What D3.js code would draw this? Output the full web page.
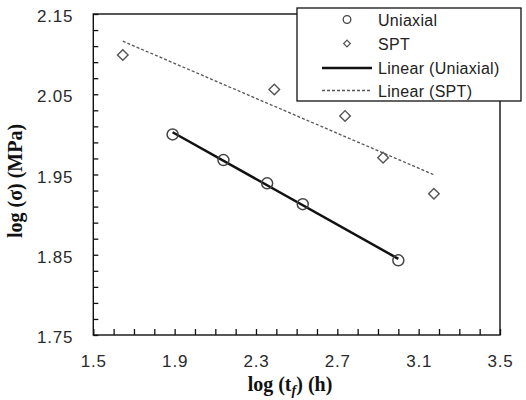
<!DOCTYPE html>
<html>
<head>
<meta charset="utf-8">
<script src="https://cdn.jsdelivr.net/npm/d3@7.9.0/dist/d3.min.js"></script>
<style>
  body { margin: 0; background: #fff; }
  svg { display: block; }
  .tick text { font-family: "Liberation Sans", Arial, sans-serif; font-size: 17px; fill: #2a2a2a; letter-spacing: 0.8px; }
  .title { font-family: "Liberation Serif", "Times New Roman", serif; font-weight: bold; font-size: 20px; fill: #111; }
  .legend text { font-family: "Liberation Sans", Arial, sans-serif; font-size: 16px; fill: #222; letter-spacing: 0.3px; }
</style>
</head>
<body>
<svg id="chart" width="526" height="400"></svg>
<script>
// data
const uniaxialX = [1.89, 2.14, 2.355, 2.53, 3.0];
const uniaxialY = [2.0, 1.968, 1.939, 1.913, 1.843];
const sptX = [1.645, 2.39, 2.738, 2.925, 3.175];
const sptY = [2.099, 2.056, 2.023, 1.971, 1.926];

const xTickLabels = [1.5, 1.9, 2.3, 2.7, 3.1, 3.5];
const yTickLabels = [1.75, 1.85, 1.95, 2.05, 2.15];
const legendLabels = ["Uniaxial", "SPT", "Linear (Uniaxial)", "Linear (SPT)"];

const svg = d3.select("#chart");
const margin = { left: 93.3, right: 26, top: 14, bottom: 65 };
const width = 526 - margin.left - margin.right;
const height = 400 - margin.top - margin.bottom;

const x = d3.scaleLinear().domain([1.5, 3.5]).range([0, width]);
const y = d3.scaleLinear().domain([1.75, 2.15]).range([height, 0]);

const g = svg.append("g").attr("transform", `translate(${margin.left},${margin.top})`);

// ticks every 0.1 on x, every 0.02 on y, pointing inwards
const xMinor = d3.range(15, 36).map(d => d / 10);
const yMinor = d3.range(0, 21).map(d => +(1.75 + d * 0.02).toFixed(2));
const isLabel = (list, v) => list.some(t => Math.abs(t - v) < 1e-6);

const xAxis = g.append("g")
  .attr("transform", `translate(0,${height})`)
  .call(d3.axisBottom(x).tickValues(xMinor).tickSize(-6).tickPadding(20)
    .tickFormat(d => isLabel(xTickLabels, d) ? d3.format(".1f")(d) : ""));

const yAxis = g.append("g")
  .call(d3.axisLeft(y).tickValues(yMinor).tickSize(-5).tickPadding(20)
    .tickFormat(d => isLabel(yTickLabels, d) ? d3.format(".2f")(d) : ""));

[xAxis, yAxis].forEach(a => {
  a.select(".domain").remove();
  a.selectAll(".tick line").attr("stroke", "#111").attr("stroke-width", 1.3);
});
yAxis.selectAll(".tick text").attr("dy", "0.45em");

// frame
g.append("rect")
  .attr("width", width).attr("height", height)
  .attr("fill", "none").attr("stroke", "#111").attr("stroke-width", 1.4);

// least squares trendlines
function fit(xs, ys) {
  const mx = d3.mean(xs), my = d3.mean(ys);
  const slope = d3.sum(xs, (v, i) => (v - mx) * (ys[i] - my)) / d3.sum(xs, v => (v - mx) ** 2);
  const x0 = d3.min(xs), x1 = d3.max(xs);
  return [[x0, my + slope * (x0 - mx)], [x1, my + slope * (x1 - mx)]];
}
const line = d3.line().x(d => x(d[0])).y(d => y(d[1]));

g.append("path").attr("d", line(fit(sptX, sptY)))
  .attr("fill", "none").attr("stroke", "#555").attr("stroke-width", 1.3).attr("stroke-dasharray", "3,2");
g.append("path").attr("d", line(fit(uniaxialX, uniaxialY)))
  .attr("fill", "none").attr("stroke", "#111").attr("stroke-width", 2.5);

const diamond = d3.symbol().type(d3.symbolSquare);

// markers
g.selectAll(".uni").data(uniaxialX).join("circle")
  .attr("cx", d => x(d)).attr("cy", (d, i) => y(uniaxialY[i])).attr("r", 5.5)
  .attr("fill", "none").attr("stroke", "#444").attr("stroke-width", 1.5);

g.selectAll(".spt").data(sptX).join("path")
  .attr("d", diamond.size(56))
  .attr("transform", (d, i) => `translate(${x(d)},${y(sptY[i])}) rotate(45)`)
  .attr("fill", "none").attr("stroke", "#555").attr("stroke-width", 1.4);

// axis titles
const xTitle = svg.append("text").attr("class", "title")
  .attr("x", 290).attr("y", 391).attr("text-anchor", "middle");
xTitle.append("tspan").text("log (t");
xTitle.append("tspan").attr("font-size", "14px").attr("font-style", "italic").attr("dy", 4).text("f");
xTitle.append("tspan").attr("dy", -4).text(") (h)");

svg.append("text").attr("class", "title")
  .attr("transform", "translate(22,181) rotate(-90)")
  .attr("text-anchor", "middle")
  .text("log (σ) (MPa)");

// legend
const legend = svg.append("g").attr("class", "legend");
legend.append("rect")
  .attr("x", 297).attr("y", 8).attr("width", 224).attr("height", 93)
  .attr("fill", "#fff").attr("stroke", "#111").attr("stroke-width", 1.3);

const rowY = [19.5, 43.5, 68, 90.5];
legend.append("circle").attr("cx", 347).attr("cy", rowY[0]).attr("r", 3.8)
  .attr("fill", "none").attr("stroke", "#444").attr("stroke-width", 1.3);
legend.append("path").attr("d", diamond.size(22))
  .attr("transform", `translate(347,${rowY[1]}) rotate(45)`)
  .attr("fill", "none").attr("stroke", "#555").attr("stroke-width", 1.2);
legend.append("line").attr("x1", 322).attr("x2", 372).attr("y1", rowY[2]).attr("y2", rowY[2])
  .attr("stroke", "#111").attr("stroke-width", 2.5);
legend.append("line").attr("x1", 322).attr("x2", 372).attr("y1", rowY[3]).attr("y2", rowY[3])
  .attr("stroke", "#555").attr("stroke-width", 1.3).attr("stroke-dasharray", "3,2");

legend.selectAll(".lab").data(legendLabels).join("text")
  .attr("x", 378).attr("y", (d, i) => rowY[i] + 6)
  .text(d => d);
</script>
</body>
</html>
